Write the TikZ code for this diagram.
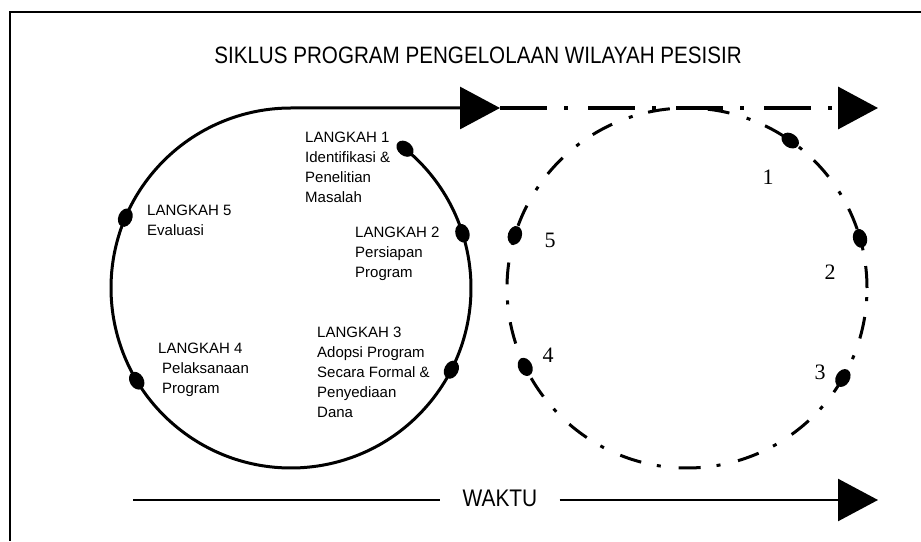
\documentclass[tikz,border=0pt]{standalone}
\usepackage{fontspec}
\setmainfont{Liberation Sans}
\newfontfamily\narrowsf[FakeStretch=0.87]{Liberation Sans}
\newfontfamily\numserif{Liberation Serif}
\usetikzlibrary{arrows.meta, calc, shapes.geometric, positioning}

\begin{document}
\begin{tikzpicture}[x=1pt, y=1pt,
    cyc/.style={line width=3pt},
    bigtip/.style={-{Triangle[length=40pt, width=42pt]}},
    dashdot/.style={dash pattern=on 47pt off 17pt on 4pt off 20pt},
    ringdash/.style={dash pattern=on 22pt off 16pt on 4pt off 18pt},
    stepdot/.style={ellipse, fill, inner sep=0pt,
      minimum width=14pt, minimum height=19pt},
    steptext/.style={anchor=north west, align=left, inner sep=0pt,
      font=\fontsize{15}{20}\selectfont},
    numlabel/.style={font=\numserif\fontsize{22}{22}\selectfont}
  ]
  \useasboundingbox (0,0) rectangle (921,541);
  \draw[line width=2pt] (921,529) -- (10,529) -- (10,0);

  \node[font=\narrowsf\fontsize{23.7}{24}\selectfont] (title) at (478,486)
    {SIKLUS PROGRAM PENGELOLAAN WILAYAH PESISIR};

  \coordinate (lc) at (291,253);
  \coordinate (rc) at (687,253);
  \coordinate (tip1) at (500,433);
  \coordinate (tip2) at (878,433);

  % left cycle, solid
  \draw[cyc, bigtip] ($(lc)+(50.7:180pt)$)
    arc[start angle=50.7, end angle=-270, radius=180pt] -- (tip1);
  \draw[cyc, line width=3.5pt, dashdot, bigtip] (tip1) -- (tip2);

  \node[stepdot, rotate=50.7] (l1) at ($(lc)+(50.7:180pt)$) {};
  \node[stepdot, rotate=17.7] (l2) at ($(lc)+(17.7:180pt)$) {};
  \node[stepdot, rotate=-27] (l3) at ($(lc)+(-27:180pt)$) {};
  \node[stepdot, rotate=211] (l4) at ($(lc)+(211:180pt)$) {};
  \node[stepdot, rotate=157] (l5) at ($(lc)+(157:180pt)$) {};

  \node[steptext] (lbl1) at (305,409)
    {LANGKAH 1\\Identifikasi \&\\Penelitian\\Masalah};
  \node[steptext] (lbl2) at (355,314)
    {LANGKAH 2\\Persiapan\\Program};
  \node[steptext] (lbl3) at (317,214)
    {LANGKAH 3\\Adopsi Program\\Secara Formal \&\\Penyediaan\\Dana};
  \node[steptext] (lbl4) at (158,198)
    {LANGKAH 4\\\hspace*{4pt}Pelaksanaan\\\hspace*{4pt}Program};
  \node[steptext] (lbl5) at (147,336)
    {LANGKAH 5\\Evaluasi};

  % right cycle, dash-dot
  \draw[cyc, ringdash] (rc) circle[radius=180pt];

  \node[stepdot, rotate=55] (r1) at ($(rc)+(55:180pt)$) {};
  \node[stepdot, rotate=16] (r2) at ($(rc)+(16:180pt)$) {};
  \node[stepdot, rotate=-30] (r3) at ($(rc)+(-30:180pt)$) {};
  \node[stepdot, rotate=206] (r4) at ($(rc)+(206:180pt)$) {};
  \node[stepdot, rotate=163] (r5) at ($(rc)+(163:180pt)$) {};

  \node[numlabel] (n1) at (768,364) {1};
  \node[numlabel] (n2) at (830,269) {2};
  \node[numlabel] (n3) at (820,169) {3};
  \node[numlabel] (n4) at (548,186) {4};
  \node[numlabel] (n5) at (550,301) {5};

  % time axis
  \node[font=\narrowsf\fontsize{24}{24}\selectfont, inner xsep=22pt] (waktu)
    at (500,43) {WAKTU};
  \coordinate (tstart) at (133,41);
  \coordinate (tend) at (878,41);
  \draw[line width=2.5pt] (tstart) -- (waktu.west |- tstart);
  \draw[line width=2.5pt, bigtip] (waktu.east |- tend) -- (tend);
\end{tikzpicture}
\end{document}
